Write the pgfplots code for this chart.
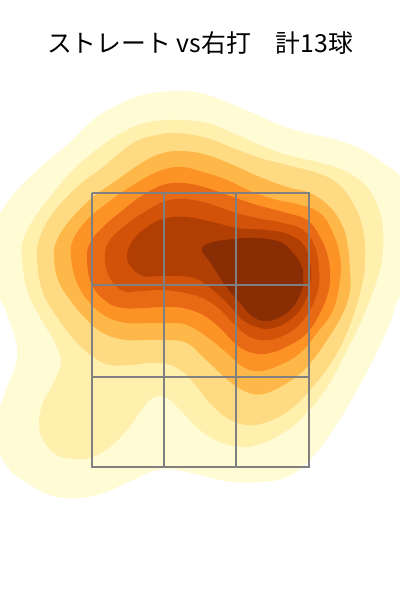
\documentclass[border=0pt]{standalone}
\usepackage{pgfplots}
\pgfplotsset{compat=1.18}
\usepackage{fontspec}
\setmainfont{Noto Sans CJK JP}
\definecolor{lvA}{HTML}{FFFBD5}
\definecolor{lvB}{HTML}{FFF0AE}
\definecolor{lvC}{HTML}{FEDB82}
\definecolor{lvD}{HTML}{FEB84A}
\definecolor{lvE}{HTML}{FD9225}
\definecolor{lvF}{HTML}{E96A15}
\definecolor{lvG}{HTML}{D15208}
\definecolor{lvH}{HTML}{B13F04}
\definecolor{lvI}{HTML}{882D04}
\definecolor{zoneGray}{HTML}{808080}
\begin{document}
\begin{tikzpicture}
\path[use as bounding box] (0,0) rectangle (400pt,600pt);
\begin{axis}[
  at={(0,0)}, anchor=south west,
  scale only axis, width=400pt, height=600pt,
  xmin=0, xmax=400, ymin=0, ymax=600, y dir=reverse,
  axis lines=none, clip=true,
  lv/.style={fill=#1, draw=none, smooth cycle, tension=0.7},
  zone/.style={draw=zoneGray, line width=1.5pt}]
% density levels, image pixel coordinates
\addplot[lv=lvA] coordinates {
 (-25,245) (0,213) (17,190) (43,165) (67,145) (93,120) (117,105) (143,95) (173,91) (200,93) (227,102) (253,113) (280,125) (307,133) (337,140) (363,150) (383,163) (405,182) (430,230) (425,270) (400,297) (390,323) (373,360) (353,397) (333,430) (310,460) (287,477) (260,482) (233,482) (207,477) (177,470) (157,470) (133,480) (103,493) (77,498) (50,495) (27,483) (10,470) (0,453) (-5,425) (0,407) (7,387) (15,367) (17,347) (10,323) (0,300) (-25,275)};
\addplot[lv=lvB] coordinates {
 (22,257) (23,240) (33,220) (50,197) (73,170) (100,147) (127,130) (150,122) (177,120) (207,123) (233,133) (260,145) (287,155) (317,162) (343,170) (367,187) (380,213) (383,237) (380,270) (363,317) (347,350) (327,387) (303,417) (283,433) (263,443) (243,447) (220,442) (200,430) (183,413) (170,400) (160,396) (150,400) (140,412) (127,430) (110,447) (93,457) (77,459) (57,455) (43,440) (39,423) (43,403) (55,380) (61,362) (55,343) (40,317) (27,290)};
\addplot[lv=lvC] coordinates {
 (37,257) (40,237) (53,213) (77,187) (103,167) (133,143) (157,135) (177,133) (207,138) (233,148) (260,158) (287,165) (317,173) (337,183) (353,203) (363,230) (365,258) (362,285) (350,325) (333,360) (310,390) (290,410) (267,422) (247,425) (227,418) (210,403) (197,387) (183,372) (167,364) (150,363) (130,365) (110,365) (95,358) (77,343) (57,317) (42,290)};
\addplot[lv=lvD] coordinates {
 (54,257) (57,240) (70,220) (93,197) (117,180) (143,162) (163,153) (183,151) (207,155) (233,165) (260,177) (287,187) (310,193) (330,207) (343,227) (348,247) (350,270) (350,290) (343,313) (327,340) (307,367) (287,383) (267,393) (253,394) (237,387) (220,373) (203,357) (187,343) (167,340) (147,340) (127,340) (107,335) (90,323) (70,300) (58,280)};
\addplot[lv=lvE] coordinates {
 (71,257) (73,240) (87,220) (107,203) (130,187) (157,172) (180,167) (203,172) (227,180) (253,192) (277,200) (297,204) (320,213) (333,233) (340,257) (340,280) (333,310) (317,333) (300,353) (280,365) (260,371) (243,367) (227,353) (207,337) (187,325) (167,323) (147,323) (127,323) (107,317) (90,303) (77,283)};
\addplot[lv=lvF] coordinates {
 (87,260) (90,243) (103,227) (123,210) (143,195) (163,185) (183,183) (207,188) (233,197) (257,205) (283,212) (307,220) (320,237) (328,257) (330,277) (328,293) (320,313) (307,333) (290,345) (270,353) (253,353) (237,345) (220,328) (203,315) (183,308) (163,307) (143,308) (123,308) (107,302) (92,285)};
\addplot[lv=lvG] coordinates {
 (105,260) (108,243) (123,227) (143,213) (163,202) (183,199) (207,203) (233,212) (257,218) (283,223) (303,230) (315,247) (319,270) (318,290) (310,310) (297,327) (280,337) (267,340) (250,337) (233,323) (217,307) (200,297) (180,292) (160,290) (140,291) (123,291) (110,278)};
\addplot[lv=lvH] coordinates {
 (127,257) (133,240) (150,225) (167,218) (187,217) (213,222) (237,228) (267,230) (290,235) (305,247) (311,270) (308,293) (300,310) (287,322) (273,328) (260,328) (243,320) (227,303) (213,290) (197,279) (180,276) (160,276) (143,276) (132,268)};
\addplot[lv=lvI] coordinates {
 (202,250) (210,243) (233,239) (257,238) (280,242) (293,253) (302,267) (303,280) (302,290) (293,307) (280,317) (267,321) (253,317) (240,303) (225,285) (210,262)};
% zone grid
\addplot[zone] coordinates {(92,193) (309,193) (309,467) (92,467) (92,193)};
\addplot[zone] coordinates {(164,193) (164,467)};
\addplot[zone] coordinates {(236,193) (236,467)};
\addplot[zone] coordinates {(92,285) (309,285)};
\addplot[zone] coordinates {(92,377) (309,377)};
\node[font=\fontsize{24.8}{28}\selectfont, inner sep=0pt] at (axis cs:200,43) {ストレート vs右打　計13球};
\end{axis}
\end{tikzpicture}
\end{document}
